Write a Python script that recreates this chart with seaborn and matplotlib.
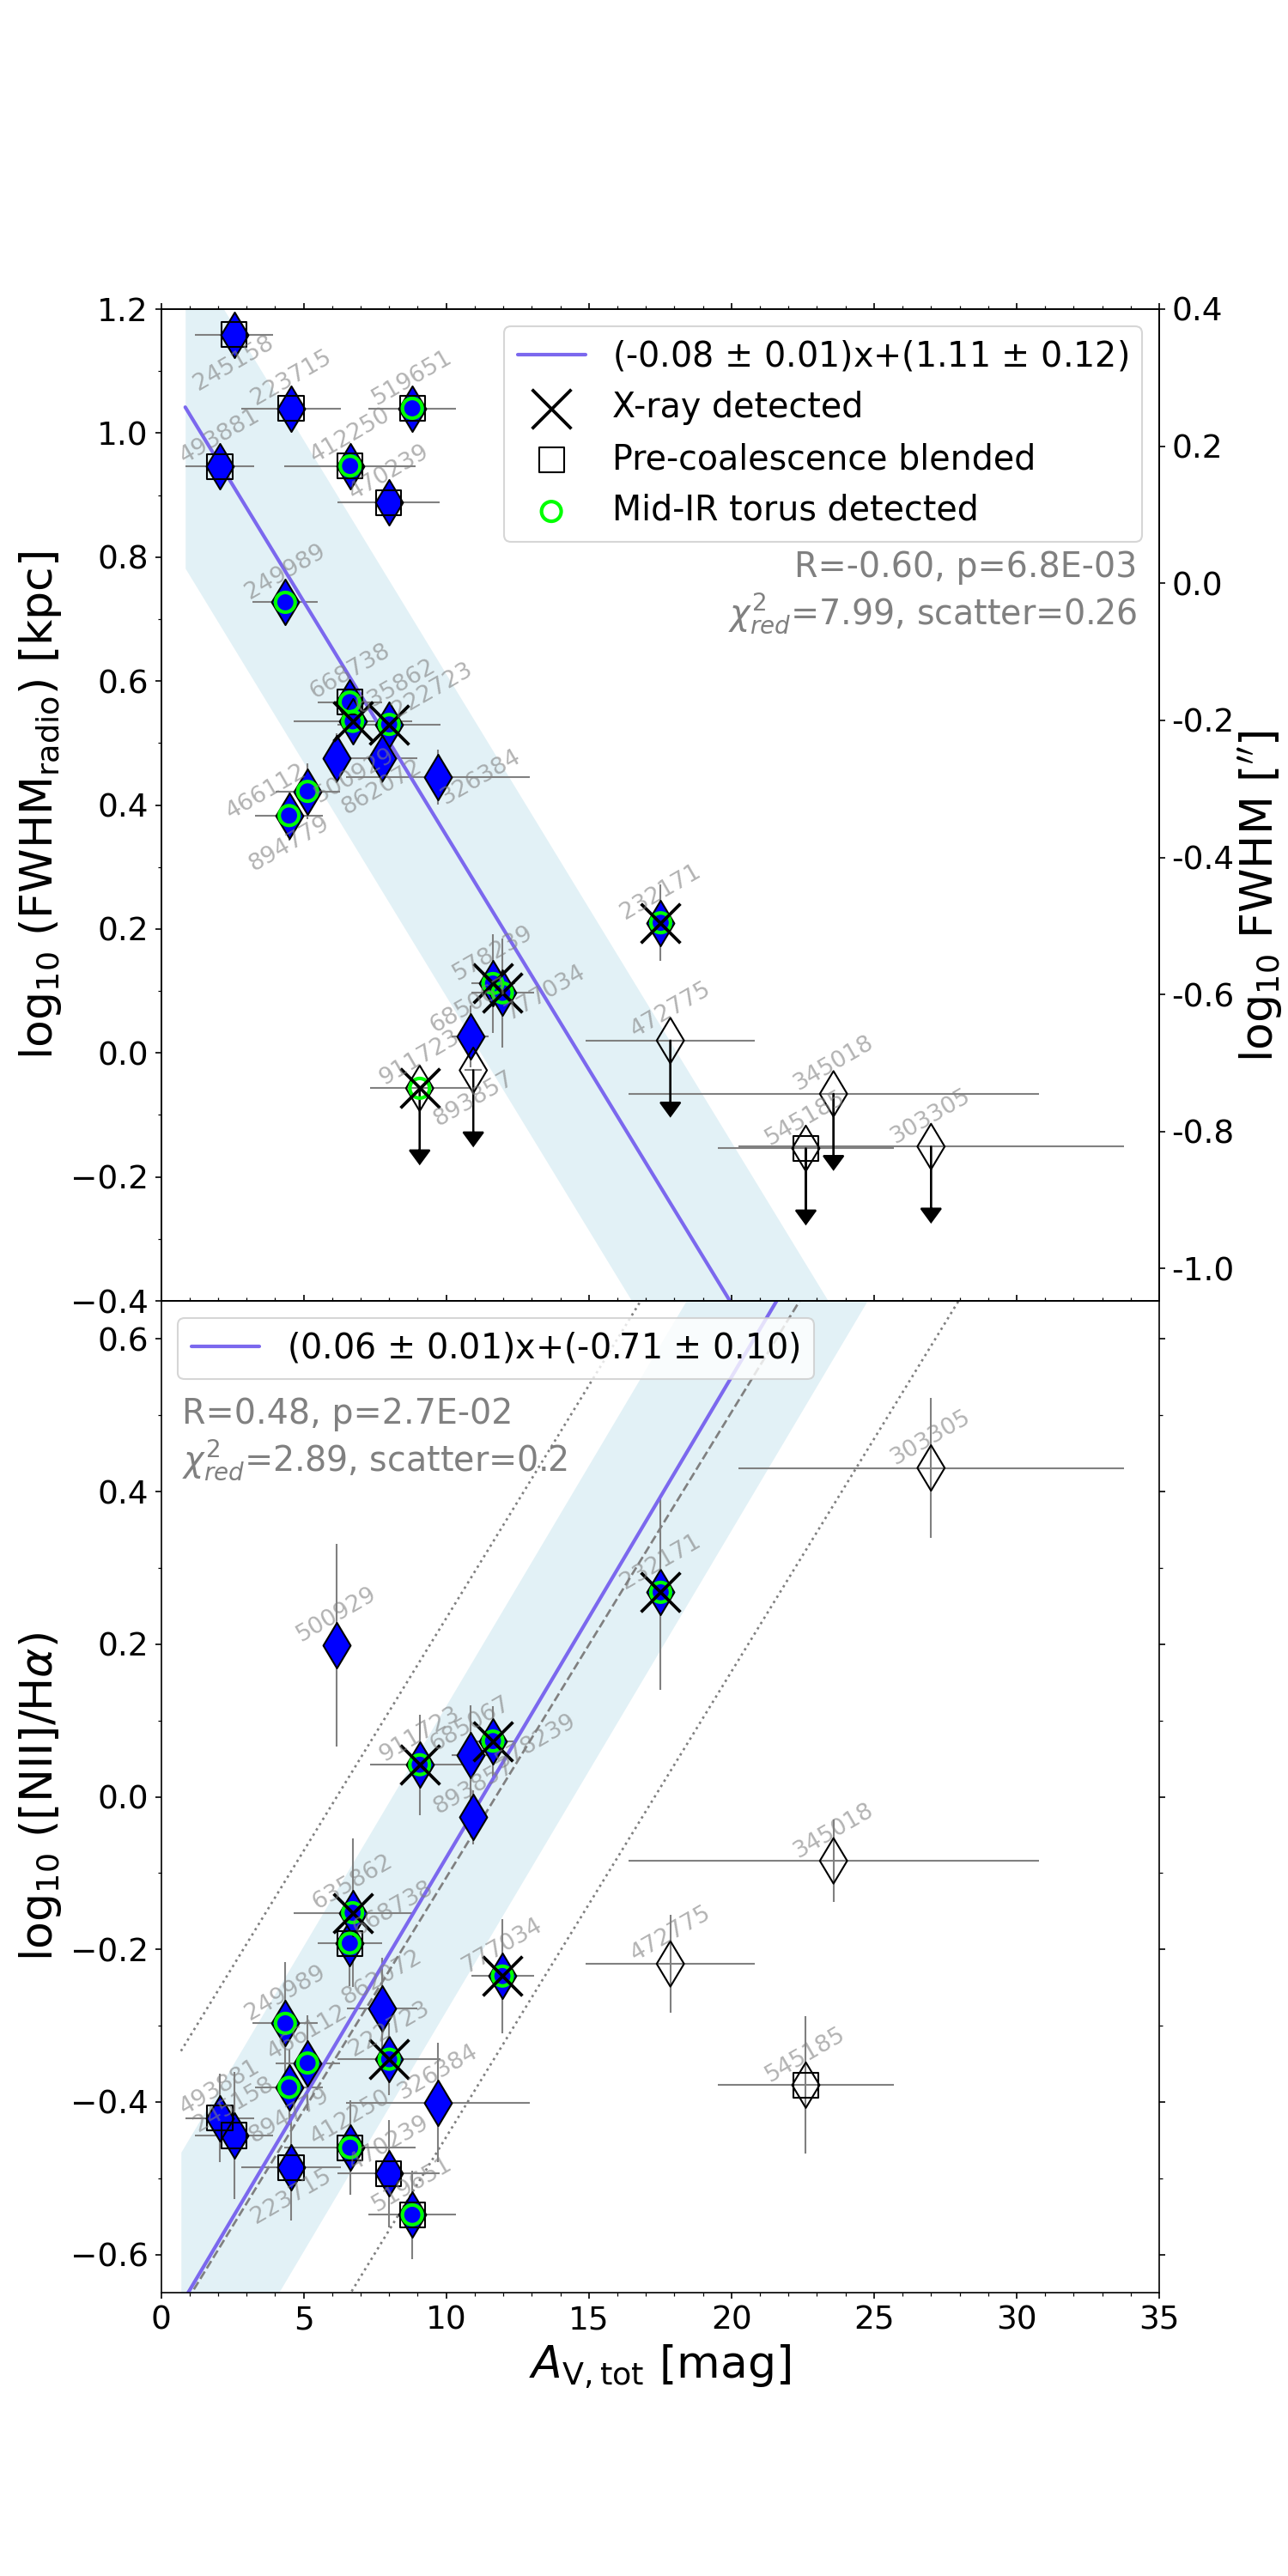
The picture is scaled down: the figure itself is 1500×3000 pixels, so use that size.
import numpy as np
import pandas as pd
import matplotlib
matplotlib.use("Agg")
import matplotlib.pyplot as plt
from matplotlib.ticker import MultipleLocator
import seaborn as sns

# galaxy ids and total A_V (shared x axis of both panels)
ids = ["245158", "223715", "519651", "493881", "412250", "470239", "249989",
       "668738", "635862", "222723", "500929", "862072", "326384", "466112",
       "894779", "232171", "578239", "777034", "685067", "893857", "911723",
       "472775", "345018", "545185", "303305"]
av = [2.56, 4.56, 8.81, 2.06, 6.63, 7.99, 4.36,
      6.62, 6.72, 8.00, 6.16, 7.75, 9.71, 5.14,
      4.49, 17.52, 11.64, 11.97, 10.84, 10.95, 9.07,
      17.86, 23.58, 22.61, 27.00]
av_err = [1.37, 1.74, 1.53, 1.20, 2.30, 1.79, 1.14,
          1.14, 2.08, 1.80, 0.30, 1.23, 3.21, 1.13,
          1.18, 0.30, 0.77, 1.10, 0.65, 0.30, 1.75,
          2.97, 7.20, 3.10, 6.76]

# top panel: radio size
log_fwhm = [1.159, 1.040, 1.040, 0.946, 0.947, 0.888, 0.727,
            0.566, 0.535, 0.530, 0.476, 0.475, 0.445, 0.422,
            0.383, 0.210, 0.112, 0.097, 0.027, -0.028, -0.057,
            0.020, -0.066, -0.154, -0.151]
log_fwhm_err = [0.02, 0.02, 0.02, 0.02, 0.02, 0.02, 0.03,
                0.03, 0.03, 0.03, 0.04, 0.04, 0.044, 0.045,
                0.04, 0.062, 0.08, 0.088, 0.05, 0.0, 0.0,
                0.0, 0.0, 0.0, 0.0]
fwhm_uplim = ["893857", "911723", "472775", "345018", "545185", "303305"]

# bottom panel: [NII]/Halpha
log_n2ha = [-0.444, -0.486, -0.548, -0.421, -0.460, -0.494, -0.297,
            -0.192, -0.152, -0.344, 0.199, -0.277, -0.401, -0.349,
            -0.381, 0.268, 0.073, -0.235, 0.055, -0.027, 0.042,
            -0.219, -0.084, -0.378, 0.431]
log_n2ha_err = [0.083, 0.070, 0.058, 0.058, 0.062, 0.070, 0.080,
                0.056, 0.097, 0.047, 0.133, 0.066, 0.078, 0.062,
                0.050, 0.128, 0.046, 0.075, 0.065, 0.035, 0.066,
                0.064, 0.054, 0.090, 0.092]
n2ha_open = ["472775", "345018", "545185", "303305"]

# flags
xray = ["635862", "222723", "232171", "578239", "777034", "911723"]
blended = ["245158", "223715", "519651", "493881", "412250", "470239", "668738", "545185"]
torus = ["519651", "412250", "249989", "668738", "635862", "222723", "466112",
         "894779", "232171", "578239", "777034", "911723"]

# fits
fit_top = (-0.0755, 1.106, 0.26)
fit_bot = (0.063, -0.71, 0.20)
ref_bot = (0.061, -0.716, 0.34)

common_blue = "blue"
fit_color = "mediumslateblue"

sns.set_style("ticks", {"axes.edgecolor": "black", "xtick.color": "black",
                        "ytick.color": "black", "text.color": "black",
                        "axes.labelcolor": "black"})
plt.rcParams["font.family"] = ["DejaVu Sans"]
plt.rcParams["mathtext.fontset"] = "dejavusans"
plt.rcParams["xtick.direction"] = "out"
plt.rcParams["ytick.direction"] = "out"

df = pd.DataFrame({"id": ids, "av": av, "av_err": av_err,
                   "fwhm": log_fwhm, "fwhm_err": log_fwhm_err,
                   "n2ha": log_n2ha, "n2ha_err": log_n2ha_err})
df["xray"] = df["id"].isin(xray)
df["blend"] = df["id"].isin(blended)
df["torus"] = df["id"].isin(torus)

# label offsets (points) where the id text was pushed away from the default spot
UP, DOWN, RIGHT, UPR, LEFT, DR = (0, 17), (0, -16), (24, 0), (24, 19), (-23, 0), (10, -10)
off_top = {"245158": DOWN, "894779": DOWN, "466112": LEFT, "635862": UPR,
           "222723": UPR, "500929": DR, "862072": DOWN, "326384": RIGHT,
           "777034": RIGHT, "893857": DOWN}
off_bot = {"668738": UPR, "223715": DOWN, "894779": DOWN, "578239": RIGHT}

fig, (ax1, ax3) = plt.subplots(2, 1, figsize=(10, 20), dpi=150, sharex=True)
fig.subplots_adjust(hspace=0)


def draw_points(ax, ycol, ecol, open_ids, legend):
    d = df.copy()
    d["open"] = d["id"].isin(open_ids)
    ax.errorbar(d["av"], d[ycol], xerr=d["av_err"], yerr=d[ecol], fmt="none",
                ecolor="gray", elinewidth=1.0, zorder=1)
    sns.scatterplot(data=d[~d["open"]], x="av", y=ycol, marker="d", s=18 ** 2,
                    color=common_blue, edgecolor="k", linewidth=1.0, zorder=3, ax=ax)
    sns.scatterplot(data=d[d["open"]], x="av", y=ycol, marker="d", s=18 ** 2,
                    color="k", facecolor="none", edgecolor="k", linewidth=1.0,
                    zorder=3, ax=ax)
    sns.scatterplot(data=d[d["xray"]], x="av", y=ycol, marker="x", s=22 ** 2,
                    color="k", edgecolor="k", linewidth=1.8, zorder=6, ax=ax,
                    label="X-ray detected" if legend else None)
    sns.scatterplot(data=d[d["blend"]], x="av", y=ycol, marker="s", s=14 ** 2,
                    color="k", facecolor="none", edgecolor="k", linewidth=1.0,
                    zorder=4, ax=ax, label="Pre-coalescence blended" if legend else None)
    sns.scatterplot(data=d[d["torus"]], x="av", y=ycol, marker="o", s=11 ** 2,
                    color="lime", facecolor="none", edgecolor="lime", linewidth=2.0,
                    zorder=5, ax=ax, label="Mid-IR torus detected" if legend else None)


def draw_ids(ax, ycol, offsets):
    for gid, x, y in zip(df["id"], df["av"], df[ycol]):
        ax.annotate(gid, (x, y), xytext=offsets.get(gid, UP), textcoords="offset points",
                    rotation=30, ha="center", va="center", fontsize=13,
                    color="gray", alpha=0.6, zorder=7)


# ---- top panel
xf = np.linspace(0.85, 35, 200)
yf = fit_top[0] * xf + fit_top[1]
ax1.fill_between(xf, yf - fit_top[2], yf + fit_top[2], color="lightblue", alpha=0.35,
                 lw=0, zorder=0)
ax1.plot(xf, yf, color=fit_color, lw=2, zorder=2,
         label=r"(-0.08 $\pm$ 0.01)x+(1.11 $\pm$ 0.12)")
draw_points(ax1, "fwhm", "fwhm_err", fwhm_uplim, True)
for _, r in df[df["id"].isin(fwhm_uplim)].iterrows():
    ax1.arrow(r["av"], r["fwhm"], 0, -0.1, head_width=0.7, head_length=0.022,
              fc="k", ec="k", lw=1, zorder=2)
draw_ids(ax1, "fwhm", off_top)
ax1.set_ylim(-0.4, 1.2)
ax1.yaxis.set_major_locator(MultipleLocator(0.2))
ax1.yaxis.set_minor_locator(MultipleLocator(0.1))
ax1.set_ylabel(r"log$_{10}$ (FWHM$_{\rm radio}$) [kpc]", fontsize=25)
ax1.set_xlabel("")
ax1.tick_params(which="both", top=True, bottom=False, labelbottom=False, labelsize=18)
ax1.legend(loc="upper right", fontsize=19)
ax1.text(0.978, 0.757, "R=-0.60, p=6.8E-03\n" + r"$\chi^2_{red}$=7.99, scatter=0.26",
         transform=ax1.transAxes, ha="right", va="top", color="gray", fontsize=19)

ax2 = ax1.twinx()
ax2.set_ylim(-1.047, 0.4)
rticks = [0.4, 0.2, 0.0, -0.2, -0.4, -0.6, -0.8, -1.0]
ax2.set_yticks(rticks)
ax2.set_yticklabels(["%.1f" % t for t in rticks])
ax2.tick_params(labelsize=18)
ax2.set_ylabel(r"log$_{10}$ FWHM [$''$]", fontsize=25)
ax2.yaxis.set_label_coords(1.078, 0.408)

# ---- bottom panel
xb = np.linspace(0.7, 35, 200)
yb = fit_bot[0] * xb + fit_bot[1]
ax3.fill_between(xb, yb - fit_bot[2], yb + fit_bot[2], color="lightblue", alpha=0.35,
                 lw=0, zorder=0)
yr = ref_bot[0] * xb + ref_bot[1]
ax3.plot(xb, yr, color="gray", ls="--", lw=1.3, zorder=1)
ax3.plot(xb, yr + ref_bot[2], color="gray", ls=":", lw=1.3, zorder=1)
ax3.plot(xb, yr - ref_bot[2], color="gray", ls=":", lw=1.3, zorder=1)
ax3.plot(xb, yb, color=fit_color, lw=2, zorder=2,
         label=r"(0.06 $\pm$ 0.01)x+(-0.71 $\pm$ 0.10)")
draw_points(ax3, "n2ha", "n2ha_err", n2ha_open, False)
draw_ids(ax3, "n2ha", off_bot)
ax3.set_ylim(-0.65, 0.65)
ax3.set_xlim(0, 35)
ax3.xaxis.set_major_locator(MultipleLocator(5))
ax3.xaxis.set_minor_locator(MultipleLocator(1))
ax3.yaxis.set_major_locator(MultipleLocator(0.2))
ax3.yaxis.set_minor_locator(MultipleLocator(0.1))
ax3.tick_params(which="both", top=True, right=True, labelsize=18)
ax3.set_ylabel(r"log$_{10}$ ([NII]/H$\alpha$)", fontsize=25)
ax3.set_xlabel(r"$A_{\rm V,tot}$ [mag]", fontsize=25)
ax3.legend(loc="upper left", fontsize=19)
ax3.text(0.021, 0.903, "R=0.48, p=2.7E-02\n" + r"$\chi^2_{red}$=2.89, scatter=0.2",
         transform=ax3.transAxes, ha="left", va="top", color="gray", fontsize=19)

fig.savefig("out.png", dpi=150)
